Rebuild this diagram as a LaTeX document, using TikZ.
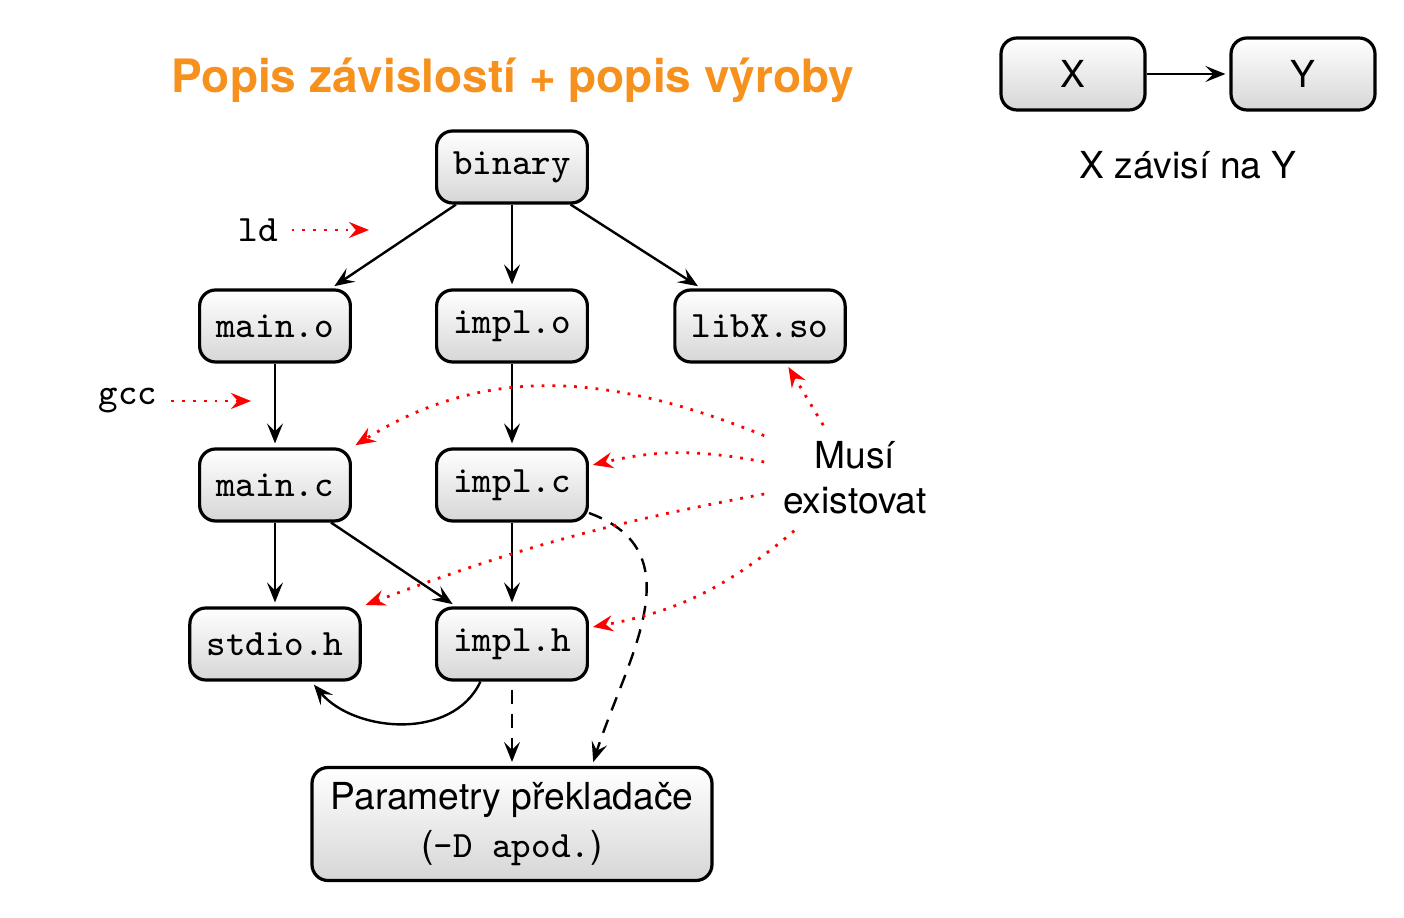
\documentclass[tikz,border=0pt]{standalone}
\usepackage{fontspec}
\setmainfont{TeX Gyre Heros}
\usetikzlibrary{arrows.meta}
\definecolor{titleorange}{RGB}{247,145,30}

\begin{document}
\begin{tikzpicture}[x=0.25pt,y=-0.25pt,
  box/.style={draw,thick,rounded corners=4pt,top color=white,bottom color=black!16,
    font=\fontsize{9.3}{11.2}\selectfont,inner xsep=4.2pt,minimum height=18pt},
  file/.style={box,font=\fontsize{9.3}{11.2}\ttfamily},
  plain/.style={font=\fontsize{9.3}{11.2}\selectfont},
  dep/.style={-{Stealth[length=5pt,width=4pt,inset=2pt]},semithick,shorten >=1pt},
  mustarrow/.style={-{Stealth[length=5pt,width=4pt,inset=1.7pt]},red,dotted,line width=0.7pt,shorten >=1pt}]
\useasboundingbox (0,0) rectangle (1404,918);

% Title
\node[font=\fontsize{11.5}{13.8}\bfseries,text=titleorange] (title) at (513,80) {Popis závislostí + popis výroby};

% Files
\node[file] (binary) at (512,167) {binary};
\node[file] (maino) at (275,326) {main.o};
\node[file] (implo) at (512,326) {impl.o};
\node[file] (libx) at (760,326) {libX.so};
\node[file] (mainc) at (275,485) {main.c};
\node[file] (implc) at (512,485) {impl.c};
\node[file] (stdio) at (275,644) {stdio.h};
\node[file] (implh) at (512,644) {impl.h};
\node[box,font=\fontsize{9.3}{12}\selectfont,align=center,minimum width=100pt,minimum height=28.25pt] (params) at (512,824) {Parametry překladače\\(\texttt{-D apod.})};

% Tools
\node[plain,font=\fontsize{9.3}{11.2}\ttfamily] (ld) at (258,230) {ld};
\coordinate (ldtip) at (373,230);
\node[plain,font=\fontsize{9.3}{11.2}\ttfamily] (gcc) at (128,401) {gcc};
\coordinate (gcctip) at (255,401);
\draw[mustarrow] (ld) -- (ldtip);
\draw[mustarrow] (gcc) -- (gcctip);

% Dependencies
\draw[dep] (binary) -- (maino);
\draw[dep] (binary) -- (implo);
\draw[dep] (binary) -- (libx);
\draw[dep] (maino) -- (mainc);
\draw[dep] (implo) -- (implc);
\draw[dep] (mainc) -- (stdio);
\draw[dep] (mainc) -- (implh);
\draw[dep] (implc) -- (implh);
\draw[dep] (implh.-130) to[out=-115,in=-50] (stdio.-46);
\draw[dep,dash pattern=on 3.5pt off 2.5pt,shorten <=2pt] (implh) -- (params);
\draw[dep,dash pattern=on 3.5pt off 2.5pt] (implc.-20) to[out=-20,in=72,looseness=1.15] (params.36);

% Musi existovat
\node[plain,align=center,minimum width=45pt,minimum height=26pt,inner sep=0pt] (must) at (855,478) {Musí\\existovat};
\draw[mustarrow] (must.155) to[out=158,in=32] (mainc.north east);
\draw[mustarrow] (must.170) to[bend right=12] (implc.14);
\draw[mustarrow] (must.190) to[bend right=5] (stdio.north east);
\draw[mustarrow] (must.221) to[bend left=15] (implh.12);
\draw[mustarrow] (must.121) to (libx.-55);

% Legend
\node[box,minimum width=36pt] (x) at (1073,74) {X};
\node[box,minimum width=36pt] (y) at (1303,74) {Y};
\node[plain] (legend) at (1188,165) {X závisí na Y};
\draw[dep] (x) -- (y);

\end{tikzpicture}
\end{document}
